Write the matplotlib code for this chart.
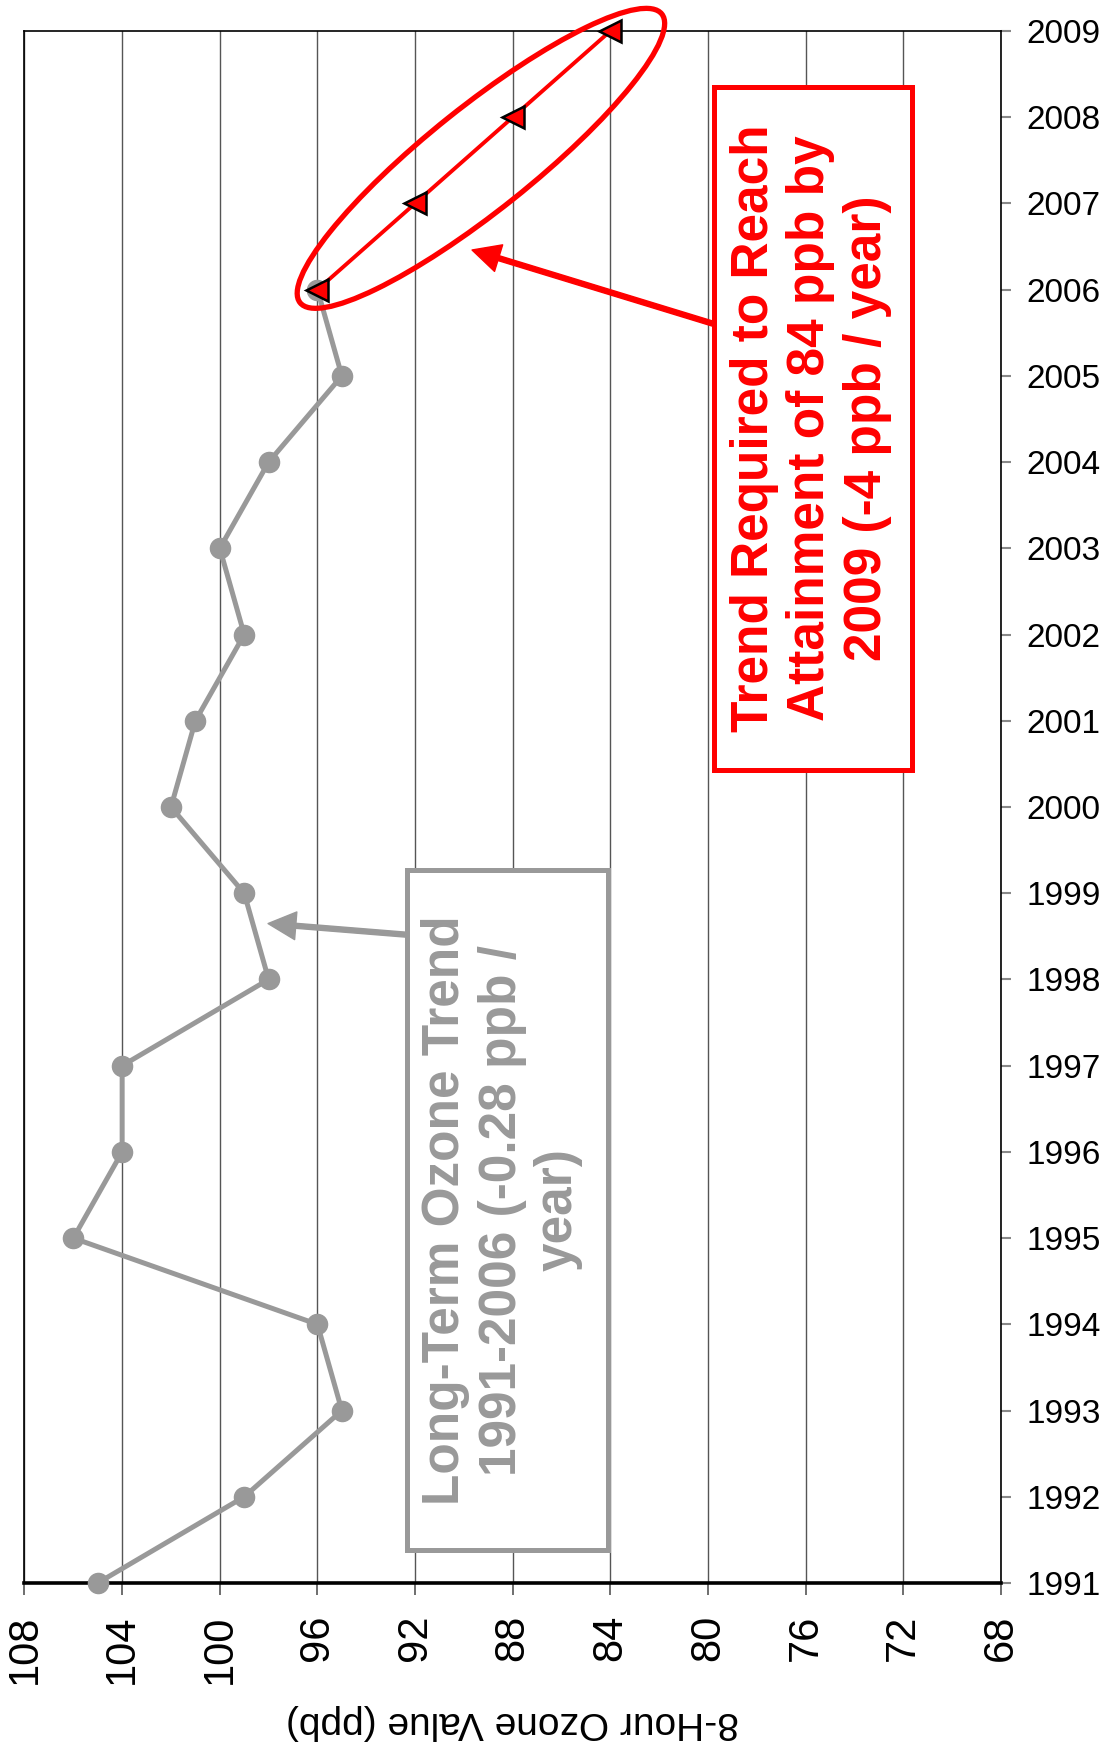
import numpy as np
import matplotlib
matplotlib.use("Agg")
import matplotlib.pyplot as plt
from matplotlib.patches import Rectangle, Ellipse
from matplotlib.transforms import IdentityTransform

# observed 8-hour ozone design values
years = [1991, 1992, 1993, 1994, 1995, 1996, 1997, 1998, 1999, 2000,
         2001, 2002, 2003, 2004, 2005, 2006]
ozone = [105, 99, 95, 96, 106, 104, 104, 98, 99, 102,
         101, 99, 100, 98, 95, 96]

# trend needed to reach attainment
trend_years = [2006, 2007, 2008, 2009]
trend_ozone = [96, 92, 88, 84]

xticks = [108, 104, 100, 96, 92, 88, 84, 80, 76, 72, 68]
yticks = list(range(1991, 2010))

grey = "#999999"
red = "#ff0000"

plt.rcParams['font.family'] = ['Liberation Sans', 'DejaVu Sans']

fig = plt.figure(figsize=(11.12, 17.48), dpi=100)
ax = fig.add_axes([0.02203, 0.09439, 0.87815, 0.88787])

ax.plot(ozone, years, color=grey, lw=3.6, marker='o', ms=14.5,
        clip_on=False, zorder=3)
ax.plot(trend_ozone, trend_years, color=red, lw=2.8, marker='<', ms=16,
        mfc=red, mec='black', mew=1.8, clip_on=False, zorder=4)

ax.set_xlim(108, 68)
ax.set_ylim(1991, 2009)
ax.set_xticks(xticks)
ax.set_xticklabels([str(v) for v in xticks])
ax.set_yticks(yticks)
ax.yaxis.tick_right()

ax.tick_params(axis='x', labelrotation=90, labelsize=30, length=8.5,
               width=1.2, color='#555555', pad=14)
ax.tick_params(axis='y', labelsize=24, length=7, width=1.5,
               color='#888888', pad=11, left=False, right=True)

ax.grid(axis='x', color='#555555', lw=1.0)
ax.grid(axis='y', visible=False)
for side in ['left', 'top', 'right']:
    ax.spines[side].set_linewidth(1.2)
    ax.spines[side].set_color('black')
ax.spines['bottom'].set_linewidth(2.6)

fig.text(0.4611, 0.0149, "8-Hour Ozone Value (ppb)", rotation=180,
         fontsize=28, ha='center', va='center')

# red annotation box
ax.add_patch(Rectangle((0.7061, 0.5238), 0.2027, 0.4401, transform=ax.transAxes,
                       facecolor='white', edgecolor=red, lw=3.6, zorder=5,
                       clip_on=False))
ax.text(0.8054, 0.7442, "Trend Required to Reach\nAttainment of 84 ppb by\n2009 (-4 ppb / year)",
        transform=ax.transAxes, rotation=90, ha='center', va='center',
        multialignment='center', fontsize=37, fontweight='bold', color=red,
        linespacing=1.2, zorder=6)
ax.annotate("", xy=(0.4583, 0.8589), xytext=(0.7061, 0.8112),
            xycoords='axes fraction', textcoords='axes fraction',
            arrowprops=dict(width=3.6, headwidth=20, headlength=20,
                            facecolor=red, edgecolor=red, shrink=0), zorder=5)

# grey annotation box
ax.add_patch(Rectangle((0.3917, 0.0213), 0.2058, 0.4381, transform=ax.transAxes,
                       facecolor='white', edgecolor=grey, lw=3.6, zorder=5,
                       clip_on=False))
ax.text(0.489, 0.2403, "Long-Term Ozone Trend\n1991-2006 (-0.28 ppb /\nyear)",
        transform=ax.transAxes, rotation=90, ha='center', va='center',
        multialignment='center', fontsize=37, fontweight='bold', color=grey,
        linespacing=1.2, zorder=6)
ax.annotate("", xy=(0.2494, 0.4249), xytext=(0.3917, 0.4177),
            xycoords='axes fraction', textcoords='axes fraction',
            arrowprops=dict(width=3.6, headwidth=20, headlength=20,
                            facecolor=grey, edgecolor=grey, shrink=0), zorder=5)

# ellipse around the required trend, in pixel space
p0 = ax.transData.transform((trend_ozone[0], trend_years[0]))
p1 = ax.transData.transform((trend_ozone[-1], trend_years[-1]))
mid = (p0 + p1) / 2 + np.array([17, 2])
dist = np.hypot(*(p1 - p0))
ax.add_patch(Ellipse(mid, dist + 72, 104, angle=38.6, transform=IdentityTransform(),
                     fill=False, edgecolor=red, lw=3.8, clip_on=False, zorder=5))

fig.savefig("out.png", dpi=100)
